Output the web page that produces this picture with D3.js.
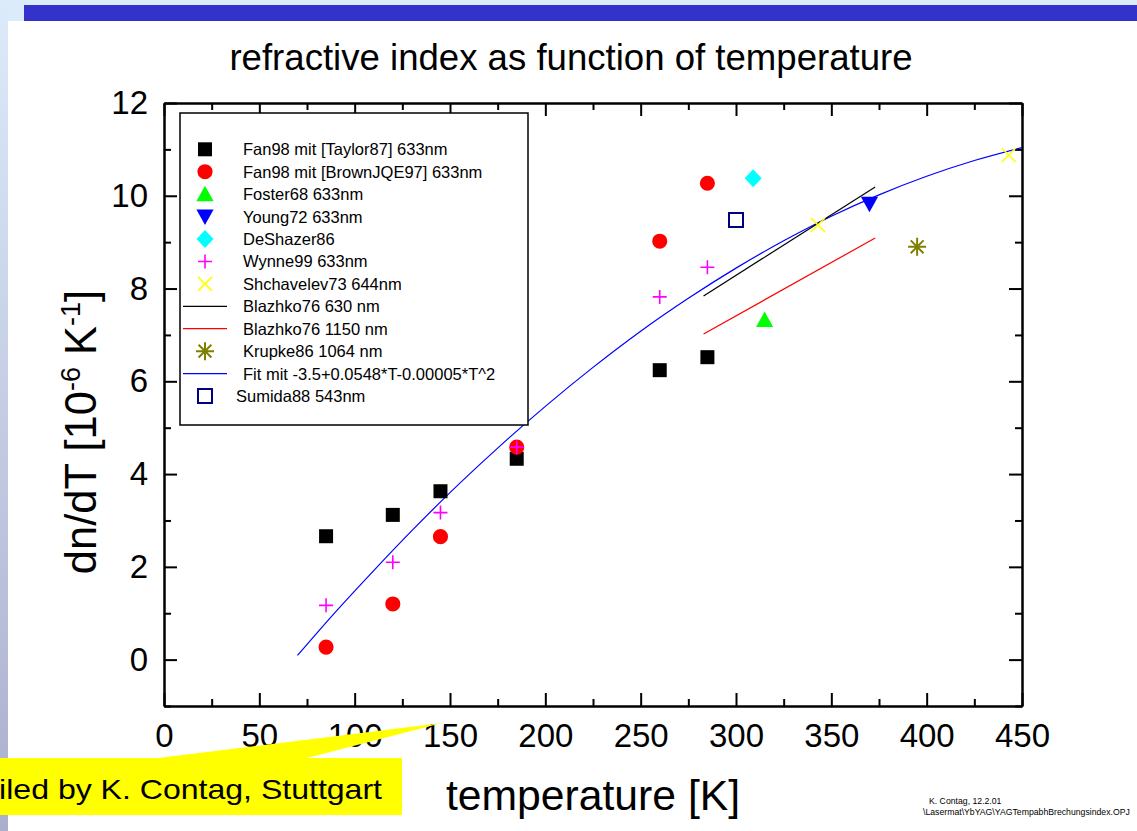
<!DOCTYPE html>
<html>
<head>
<meta charset="utf-8">
<script src="https://cdn.jsdelivr.net/npm/d3@7"></script>
<style>
  html, body { margin: 0; padding: 0; background: #fff; }
  svg { display: block; font-family: Arial, "Liberation Sans", Helvetica, sans-serif; }
</style>
</head>
<body>
<svg id="chart" width="1137" height="831"></svg>
<script>
// ---- data: dn/dT of YAG versus temperature ----
const tempFan = [85, 120, 145, 185, 260, 285];
const dndtTaylor = [2.66, 3.12, 3.63, 4.33, 6.24, 6.52];
const dndtBrown = [0.27, 1.20, 2.65, 4.58, 9.02, 10.27];
const dndtWynne = [1.17, 2.10, 3.17, 4.58, 7.82, 8.46];

const tempFoster = [315];
const dndtFoster = [7.32];
const tempYoung = [370];
const dndtYoung = [9.83];
const tempDeShazer = [309];
const dndtDeShazer = [10.38];
const tempShchavelev = [343, 443];
const dndtShchavelev = [9.37, 10.88];
const tempKrupke = [395];
const dndtKrupke = [8.90];
const tempSumida = [300];
const dndtSumida = [9.48];

const tempBlazhko = [283, 373];
const dndtBlazhko630 = [7.84, 10.19];
const dndtBlazhko1150 = [7.02, 9.09];

// fit curve -3.5+0.0548*T-0.00005*T^2, tabulated
const tempFit = [70, 90, 110, 130, 150, 175, 200, 225, 250, 275, 300, 325, 350, 375, 400, 425, 450];
const dndtFit = [0.09, 1.03, 1.92, 2.78, 3.60, 4.56, 5.46, 6.30, 7.08, 7.79, 8.44, 9.03, 9.56, 10.02, 10.42, 10.76, 11.04];

const xTicks = [0, 50, 100, 150, 200, 250, 300, 350, 400, 450];
const yTicks = [0, 2, 4, 6, 8, 10, 12];

const legendLabels = [
  "Fan98 mit [Taylor87] 633nm",
  "Fan98 mit [BrownJQE97] 633nm",
  "Foster68 633nm",
  "Young72 633nm",
  "DeShazer86",
  "Wynne99 633nm",
  "Shchavelev73 644nm",
  "Blazhko76 630 nm",
  "Blazhko76 1150 nm",
  "Krupke86 1064 nm",
  "Fit mit -3.5+0.0548*T-0.00005*T^2",
  "Sumida88 543nm"
];

const titleText = "refractive index as function of temperature";
const xLabel = "temperature [K]";
const creditText = "Compiled by K. Contag, Stuttgart";
const noteLines = ["K. Contag, 12.2.01", "\\Lasermat\\YbYAG\\YAGTempabhBrechungsindex.OPJ"];

// ---- page ----
const svg = d3.select("#chart");
const defs = svg.append("defs");
const grad = defs.append("linearGradient").attr("id", "sideGrad")
  .attr("x1", 0).attr("y1", 0).attr("x2", 0).attr("y2", 1);
grad.append("stop").attr("offset", "0%").attr("stop-color", "#dcebfa");
grad.append("stop").attr("offset", "100%").attr("stop-color", "#acaecd");

svg.append("rect").attr("width", 1137).attr("height", 831).attr("fill", "#dcebfa");
svg.append("rect").attr("x", 0).attr("y", 0).attr("width", 8).attr("height", 831).attr("fill", "url(#sideGrad)");
svg.append("rect").attr("x", 24).attr("y", 5).attr("width", 1113).attr("height", 16).attr("fill", "#3333cc");
svg.append("rect").attr("x", 8).attr("y", 21).attr("width", 1129).attr("height", 810).attr("fill", "#ffffff");

// ---- scales ----
const x = d3.scaleLinear().domain([0, 450]).range([164, 1022]);
const y = d3.scaleLinear().domain([-1, 12]).range([706, 103]);

const plot = svg.append("g");

// frame axes with inward ticks
function styleAxis(g) {
  g.selectAll("path.domain").attr("stroke", "#000").attr("stroke-width", 2);
  g.selectAll(".tick line").attr("stroke", "#000").attr("stroke-width", 2);
  g.selectAll(".tick text").attr("fill", "#000");
}
const xMinor = d3.range(25, 450, 50);
const yMinor = d3.range(-1, 12, 2);

plot.append("g").attr("transform", `translate(0,${y(-1)})`)
  .call(d3.axisBottom(x).tickValues(xMinor).tickSize(-7).tickSizeOuter(0).tickFormat(""))
  .call(styleAxis);
plot.append("g").attr("transform", `translate(0,${y(12)})`)
  .call(d3.axisTop(x).tickValues(xMinor).tickSize(-7).tickSizeOuter(0).tickFormat(""))
  .call(styleAxis);
plot.append("g").attr("transform", `translate(${x(0)},0)`)
  .call(d3.axisLeft(y).tickValues(yMinor).tickSize(-7).tickSizeOuter(0).tickFormat(""))
  .call(styleAxis);
plot.append("g").attr("transform", `translate(${x(450)},0)`)
  .call(d3.axisRight(y).tickValues(yMinor).tickSize(-7).tickSizeOuter(0).tickFormat(""))
  .call(styleAxis);

const xAxisB = plot.append("g").attr("transform", `translate(0,${y(-1)})`)
  .call(d3.axisBottom(x).tickValues(xTicks).tickSize(-13).tickSizeOuter(0).tickPadding(18).tickFormat(d3.format("d")))
  .call(styleAxis);
xAxisB.selectAll(".tick text").attr("font-size", 33).attr("font-family", "Arial, 'Liberation Sans', sans-serif");
plot.append("g").attr("transform", `translate(0,${y(12)})`)
  .call(d3.axisTop(x).tickValues(xTicks).tickSize(-13).tickSizeOuter(0).tickFormat(""))
  .call(styleAxis);
const yAxisL = plot.append("g").attr("transform", `translate(${x(0)},0)`)
  .call(d3.axisLeft(y).tickValues(yTicks).tickSize(-13).tickSizeOuter(0).tickPadding(16).tickFormat(d3.format("d")))
  .call(styleAxis);
yAxisL.selectAll(".tick text").attr("font-size", 33).attr("font-family", "Arial, 'Liberation Sans', sans-serif");
plot.append("g").attr("transform", `translate(${x(450)},0)`)
  .call(d3.axisRight(y).tickValues(yTicks).tickSize(-13).tickSizeOuter(0).tickFormat(""))
  .call(styleAxis);

// ---- marker shapes ----
function markerPath(kind) {
  switch (kind) {
    case "square": return "M-7,-7H7V7H-7Z";
    case "circle": return d3.symbol(d3.symbolCircle, 180)();
    case "up": return "M0,-8.5L8.6,7L-8.6,7Z";
    case "down": return "M0,8.5L8.6,-7L-8.6,-7Z";
    case "diamond": return "M0,-9L8.5,0L0,9L-8.5,0Z";
    case "plus": return "M-7,0H7M0,-7V7";
    case "cross": return "M-7,-7L7,7M-7,7L7,-7";
    case "star": return "M-9,0H9M0,-9V9M-6.4,-6.4L6.4,6.4M-6.4,6.4L6.4,-6.4";
    case "open": return "M-7,-7H7V7H-7Z";
  }
}
const markerStyle = {
  square: { fill: "#000000", stroke: "none", sw: 0 },
  circle: { fill: "#ff0000", stroke: "none", sw: 0 },
  up: { fill: "#00ff00", stroke: "none", sw: 0 },
  down: { fill: "#0000ff", stroke: "none", sw: 0 },
  diamond: { fill: "#00ffff", stroke: "none", sw: 0 },
  plus: { fill: "none", stroke: "#ff00ff", sw: 1.6 },
  cross: { fill: "none", stroke: "#ffff00", sw: 1.6 },
  star: { fill: "none", stroke: "#808000", sw: 2 },
  open: { fill: "none", stroke: "#000080", sw: 2 }
};

function drawMarkers(ts, vs, kind) {
  const st = markerStyle[kind];
  plot.append("g").selectAll("path").data(d3.zip(ts, vs)).join("path")
    .attr("transform", d => `translate(${x(d[0])},${y(d[1])})`)
    .attr("d", markerPath(kind))
    .attr("fill", st.fill).attr("stroke", st.stroke).attr("stroke-width", st.sw);
}
function drawLine(ts, vs, color, curve) {
  const line = d3.line().x(d => x(d[0])).y(d => y(d[1]));
  if (curve) line.curve(curve);
  plot.append("path").datum(d3.zip(ts, vs))
    .attr("d", line).attr("fill", "none").attr("stroke", color).attr("stroke-width", 1.2);
}

// ---- legend ----
const lg = svg.append("g");
lg.append("rect").attr("x", 180).attr("y", 113).attr("width", 348).attr("height", 312)
  .attr("fill", "#fff").attr("stroke", "#000").attr("stroke-width", 1.5);
const legendKinds = ["square", "circle", "up", "down", "diamond", "plus", "cross", "lineK", "lineR", "star", "lineB", "open"];
const legendRow = d3.scaleLinear().domain([0, 11]).range([149.3, 396]);
legendKinds.forEach((k, i) => {
  const cy = legendRow(i);
  if (k.startsWith("line")) {
    const c = { lineK: "#000000", lineR: "#ff0000", lineB: "#0000ff" }[k];
    lg.append("line").attr("x1", 183).attr("x2", 227).attr("y1", cy).attr("y2", cy)
      .attr("stroke", c).attr("stroke-width", 1.2);
  } else {
    const st = markerStyle[k];
    lg.append("path").attr("transform", `translate(205,${cy})`).attr("d", markerPath(k))
      .attr("fill", st.fill).attr("stroke", st.stroke).attr("stroke-width", st.sw);
  }
  lg.append("text").attr("x", k === "open" ? 236 : 243).attr("y", cy).attr("dy", "0.36em")
    .attr("font-size", 16.5).attr("fill", "#000").text(legendLabels[i]);
});

// ---- series ----
drawLine(tempFit, dndtFit, "#0000ff", d3.curveMonotoneX);
drawLine(tempBlazhko, dndtBlazhko630, "#000000");
drawLine(tempBlazhko, dndtBlazhko1150, "#ff0000");
drawMarkers(tempFan, dndtTaylor, "square");
drawMarkers(tempFan, dndtBrown, "circle");
drawMarkers(tempFoster, dndtFoster, "up");
drawMarkers(tempYoung, dndtYoung, "down");
drawMarkers(tempDeShazer, dndtDeShazer, "diamond");
drawMarkers(tempFan, dndtWynne, "plus");
drawMarkers(tempShchavelev, dndtShchavelev, "cross");
drawMarkers(tempKrupke, dndtKrupke, "star");
drawMarkers(tempSumida, dndtSumida, "open");

// ---- titles ----
svg.append("text").attr("x", 571).attr("y", 70).attr("text-anchor", "middle")
  .attr("font-size", 36.6).attr("fill", "#000").text(titleText);
svg.append("text").attr("x", 593).attr("y", 810).attr("text-anchor", "middle")
  .attr("font-size", 42.7).attr("fill", "#000").text(xLabel);

const yl = svg.append("text").attr("transform", "translate(96,432) rotate(-90)")
  .attr("text-anchor", "middle").attr("font-size", 43.5).attr("fill", "#000");
yl.append("tspan").text("dn/dT [10");
yl.append("tspan").attr("dy", -16).attr("font-size", 27).text("-6");
yl.append("tspan").attr("dy", 16).text(" K");
yl.append("tspan").attr("dy", -16).attr("font-size", 27).text("-1");
yl.append("tspan").attr("dy", 16).text("]");

// ---- file note ----
noteLines.forEach((t, i) => {
  svg.append("text").attr("x", i === 0 ? 929 : 923).attr("y", 804 + i * 10.5)
    .attr("font-size", 8.7).attr("fill", "#000").text(t);
});

// ---- credit callout ----
svg.append("path").attr("d", "M158,758L442,723L307,758Z").attr("fill", "#ffff00");
svg.append("rect").attr("x", 0).attr("y", 758).attr("width", 402).attr("height", 57).attr("fill", "#ffff00");
svg.append("text").attr("transform", "translate(382,799) scale(1.145,1)").attr("text-anchor", "end")
  .attr("font-size", 28).attr("fill", "#000").text(creditText);
</script>
</body>
</html>
